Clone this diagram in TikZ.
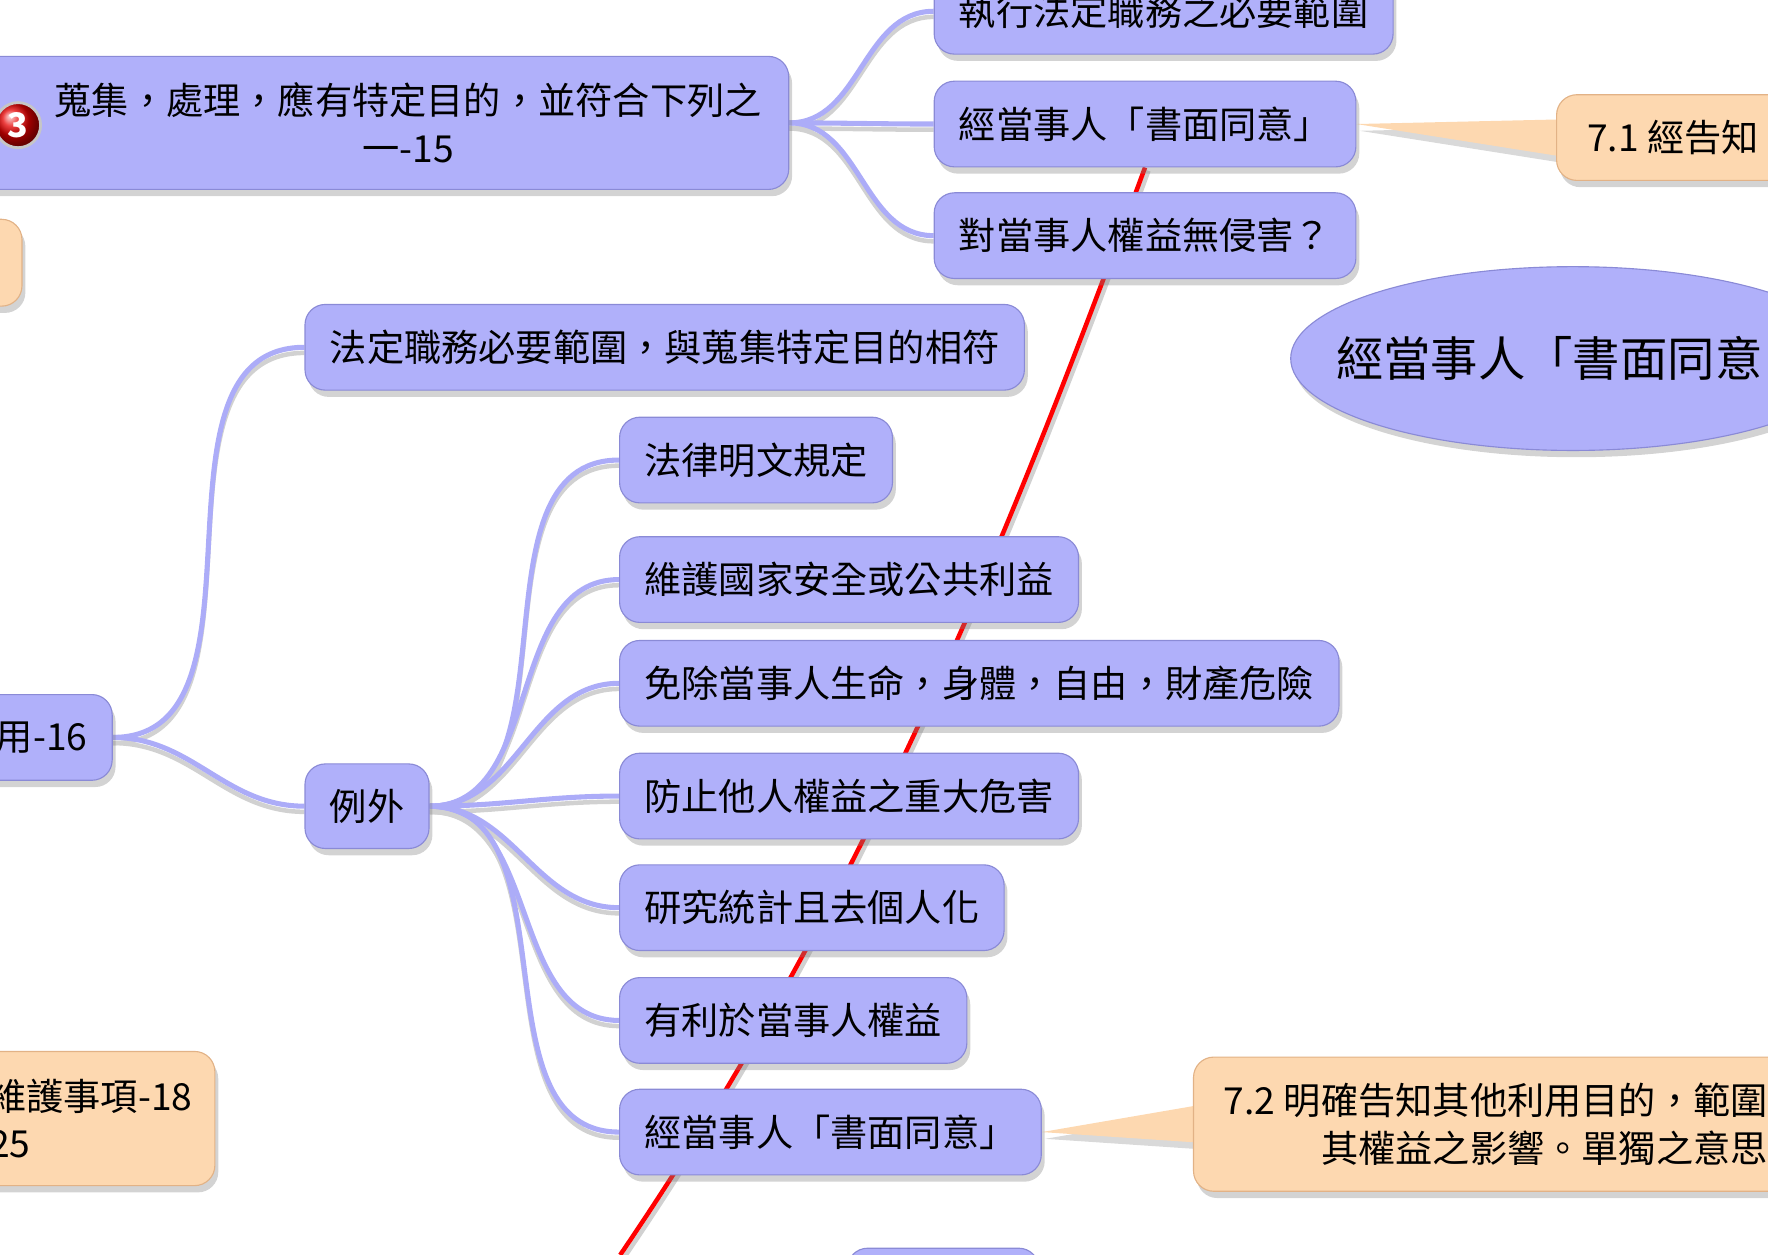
\documentclass[tikz,border=0pt]{standalone}
\usepackage{fontspec}
\setmainfont{Noto Sans CJK TC}
\usetikzlibrary{shapes.geometric,shadows,backgrounds}

\definecolor{topicfill}{RGB}{176,176,250}
\definecolor{topicdraw}{RGB}{138,138,214}
\definecolor{notefill}{RGB}{253,216,176}
\definecolor{notedraw}{RGB}{226,178,134}
\definecolor{branchcol}{RGB}{172,172,248}

\begin{document}
\begin{tikzpicture}[thick, x=1pt, y=-1pt,
  topic/.style={rectangle, rounded corners=18pt, fill=topicfill, draw=topicdraw,
    line width=1pt, minimum height=76pt, inner xsep=22pt, inner ysep=0pt,
    font=\fontsize{33}{42}\selectfont,
    drop shadow={shadow xshift=3pt, shadow yshift=-6pt, opacity=.35}},
  note/.style={topic, fill=notefill, draw=notedraw},
  branch/.style={draw=branchcol, line width=4.5pt,
    preaction={draw=black!18, line width=4pt, transform canvas={yshift=-5pt}}},
  relation/.style={draw=red, line width=4pt,
    preaction={draw=black!18, line width=4pt, transform canvas={xshift=3pt,yshift=-3pt}}}]

\useasboundingbox (0,0) rectangle (1568,1113);

% tópico central
\node[topic, anchor=east, minimum width=730pt, minimum height=118pt] (main) at (700,109) {};
\node[align=center, font=\fontsize{33}{42}\selectfont] (maintext) at (362,109)
  {蒐集，處理，應有特定目的，並符合下列之\\一-15};
\node[circle, ball color=red!90!black, draw=gray!45, line width=2.5pt, minimum size=40pt,
  inner sep=0pt, text=white, font=\fontsize{30}{30}\selectfont\bfseries] (icon) at (16,111) {3};

% ramo de cima
\node[topic, anchor=west] (duty) at (828,10) {執行法定職務之必要範圍};
\node[topic, anchor=west] (consent) at (828,110) {經當事人「書面同意」};
\node[topic, anchor=west] (noharm) at (828,209) {對當事人權益無侵害？};

% notas
\node[note, anchor=east, minimum width=200pt, minimum height=77pt] (leftnote) at (20,233) {};
\node[note, anchor=west, align=left, inner xsep=27pt] (note71) at (1380,122) {7.1 經告知};
\node[note, anchor=west, align=right, inner xsep=27pt, minimum height=119pt] (note72)
  at (1058,997) {7.2 明確告知其他利用目的，範圍\\其權益之影響。單獨之意思};
\node[note, anchor=west, align=left, inner xsep=20pt, minimum height=119pt] (note18)
  at (-30,992) {維護事項-18\\25};

% ramo do meio
\node[topic, anchor=east, text width=256pt, align=right] (use) at (100,654) {用-16};
\node[topic, anchor=west] (scope) at (270,308) {法定職務必要範圍，與蒐集特定目的相符};
\node[topic, anchor=west, minimum height=75pt] (exc) at (270,715) {例外};

% exceções
\foreach \y/\n/\t in {408/e1/法律明文規定, 514/e2/維護國家安全或公共利益,
    606/e3/免除當事人生命，身體，自由，財產危險, 706/e4/防止他人權益之重大危害,
    805/e5/研究統計且去個人化, 905/e6/有利於當事人權益, 1004/e7/經當事人「書面同意」} {
  \node[topic, anchor=west] (\n) at (549,\y) {\t};
}
\node[topic, anchor=west, minimum width=170pt] (next) at (751,1145) {};

% tópico solto
\node[ellipse, fill=topicfill, draw=topicdraw, line width=1pt, minimum width=500pt,
  minimum height=163pt, inner xsep=-33pt, inner ysep=0pt, font=\fontsize{42}{50}\selectfont,
  drop shadow={shadow xshift=3pt, shadow yshift=-6pt, opacity=.35}] (floating)
  at (1395,318) {經當事人「書面同意\phantom{」}};

\coordinate (relend) at (550,1113);

\begin{pgfonlayer}{background}
% linhas
\foreach \n in {duty, consent, noharm} {
  \draw[branch] (main.east) to[out=0, in=180] (\n.west);
}
\draw[branch] (use.east) to[out=0, in=180] (scope.west);
\draw[branch] (use.east) to[out=0, in=180] (exc.west);
\foreach \n in {e1, e2, e3, e4, e5, e6, e7} {
  \draw[branch] (exc.east) to[out=0, in=180] (\n.west);
}

% relação
\draw[relation] (consent.south) .. controls (897,470) and (768,793) .. (relend);

% balões
\fill[notefill, drop shadow={shadow xshift=3pt, shadow yshift=-6pt, opacity=.3}]
  (consent.east) -- ([yshift=16pt]note71.west) -- ([yshift=-16pt]note71.west) -- cycle;
\fill[notefill, drop shadow={shadow xshift=3pt, shadow yshift=-6pt, opacity=.3}]
  (e7.east) -- ([yshift=16pt]note72.west) -- ([yshift=-16pt]note72.west) -- cycle;
\end{pgfonlayer}

\end{tikzpicture}
\end{document}
